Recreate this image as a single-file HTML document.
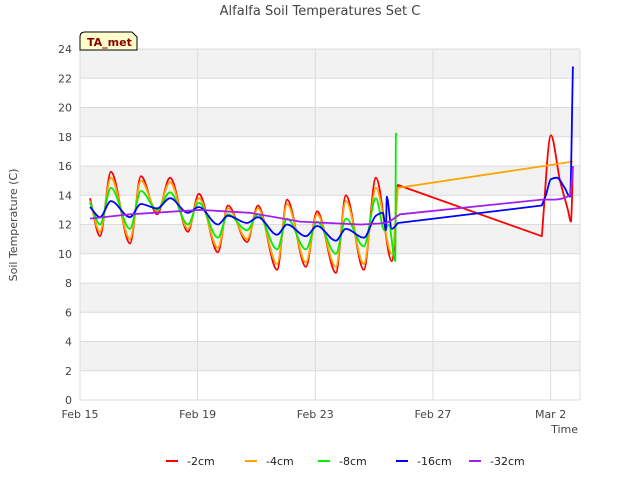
<!DOCTYPE html>
<html><head><meta charset="utf-8"><style>
body{margin:0;background:#fff;font-family:"Liberation Sans","DejaVu Sans",sans-serif;}
svg text{font-family:"DejaVu Sans","Liberation Sans",sans-serif;}
</style></head><body>
<svg id="c" width="640" height="480" xmlns="http://www.w3.org/2000/svg">
<text x="320" y="15" text-anchor="middle" font-size="13" fill="#444">Alfalfa Soil Temperatures Set C</text>
<text transform="translate(17,225) rotate(-90)" text-anchor="middle" font-size="11" fill="#444">Soil Temperature (C)</text>
<text x="578" y="433" text-anchor="end" font-size="11" fill="#444">Time</text>
<g id="bands"></g><g id="grid"></g><g id="ticks"></g><g id="series"></g>
<g>
<path d="M80,50 L80,37 Q80,32 85,32 L132,32 L137,37 L137,50 Z" fill="#ffffcc" stroke="#000" stroke-width="1"/>
<text x="87" y="46" font-size="11" font-weight="bold" fill="#8b0000">TA_met</text>
</g>
<g id="legend"></g>
</svg>
<script>
const yTicks=[0,2,4,6,8,10,12,14,16,18,20,22,24];
const xTickDays=[0,4,8,12,16];
const xTickLabels=["Feb 15","Feb 19","Feb 23","Feb 27","Mar 2"];
const seriesNames=["-2cm","-4cm","-8cm","-16cm","-32cm"];
const seriesColors=["#ff0000","#ffa500","#00ee00","#0000ff","#a020f0"];
const redDays=[0.34,0.68,1.05,1.70,2.07,2.62,3.06,3.67,4.04,4.69,5.03,5.68,6.05,6.70,7.04,7.68,8.06,8.70,9.04,9.65,10.06,10.6,10.81,15.70,16.01,16.32,16.59,16.69,16.76];
const redVals=[13.8,11.2,15.6,10.7,15.3,12.7,15.2,11.5,14.1,10.1,13.3,10.8,13.3,8.9,13.7,9.1,12.9,8.7,14.0,8.9,15.2,9.5,14.7,11.2,18.1,15.0,13.0,12.2,16.0];
const orangeDays=[0.34,0.68,1.05,1.70,2.07,2.62,3.06,3.67,4.04,4.69,5.03,5.68,6.05,6.70,7.04,7.68,8.06,8.70,9.04,9.65,10.06,10.6,10.81,16.76];
const orangeVals=[13.6,11.5,15.2,11.0,15.0,12.9,14.9,11.7,13.8,10.4,13.1,11.0,13.1,9.3,13.4,9.4,12.7,9.1,13.6,9.3,14.5,10.0,14.5,16.3];
const greenDays=[0.34,0.68,1.05,1.70,2.07,2.62,3.06,3.67,4.04,4.69,5.03,5.68,6.05,6.70,7.04,7.68,8.06,8.70,9.04,9.65,10.06,10.35,10.5,10.72,10.74,10.78];
const greenVals=[13.5,12.0,14.5,11.7,14.3,13.0,14.2,12.0,13.5,11.1,12.7,11.6,12.7,10.3,12.4,10.3,12.2,10.0,12.4,10.5,13.8,11.6,12.0,9.5,18.2,18.2];
const blueDays=[0.34,0.68,1.05,1.70,2.07,2.62,3.06,3.67,4.04,4.69,5.03,5.68,6.05,6.70,7.04,7.68,8.06,8.70,9.04,9.65,10.06,10.3,10.4,10.43,10.6,10.81,15.70,15.84,16.01,16.21,16.48,16.66,16.76];
const blueVals=[13.2,12.5,13.6,12.5,13.4,13.1,13.8,12.8,13.2,12.0,12.6,12.1,12.5,11.3,12.0,11.2,11.9,10.9,11.7,11.1,12.6,12.8,11.6,13.9,11.7,12.1,13.3,14.0,15.1,15.2,14.5,13.9,22.8];
const purpleDays=[0.34,1.70,4.08,5.78,7.48,9.52,10.37,10.88,15.70,16.14,16.66,16.76];
const purpleVals=[12.4,12.7,13.0,12.8,12.2,12.0,12.1,12.7,13.7,13.7,14.0,16.0];
const seriesDays=[redDays,orangeDays,greenDays,blueDays,purpleDays];
const seriesVals=[redVals,orangeVals,greenVals,blueVals,purpleVals];

const NS="http://www.w3.org/2000/svg";
const L=80,R=580,T=49,B=400,dMax=17.0,yMax=24;
const xs=d=>L+d/dMax*(R-L);
const ys=v=>B-v/yMax*(B-T);
const GAP=(R-L)/dMax*1.2;
function mk(tag,attrs,parent){const e=document.createElementNS(NS,tag);for(const k in attrs)e.setAttribute(k,attrs[k]);document.getElementById(parent).appendChild(e);return e;}
function smoothPath(X,Y){
 const n=X.length;if(n<2)return '';
 const d=[],lg=[],m=new Array(n);
 for(let i=0;i<n-1;i++){d.push((Y[i+1]-Y[i])/(X[i+1]-X[i]));lg.push(X[i+1]-X[i]>GAP);}
 for(let i=0;i<n;i++){
  const a=(i>0&&!lg[i-1])?d[i-1]:null, b=(i<n-1&&!lg[i])?d[i]:null;
  if(a===null&&b===null)m[i]=0;
  else if(a===null)m[i]=b;
  else if(b===null)m[i]=a;
  else if(a*b<=0)m[i]=0;
  else m[i]=2/(1/a+1/b);
 }
 let p='M'+X[0].toFixed(1)+','+Y[0].toFixed(1);
 for(let i=0;i<n-1;i++){
  if(lg[i]){p+=' L'+X[i+1].toFixed(1)+','+Y[i+1].toFixed(1);continue;}
  const h=(X[i+1]-X[i])/3;
  p+=' C'+(X[i]+h).toFixed(1)+','+(Y[i]+m[i]*h).toFixed(1)+' '+(X[i+1]-h).toFixed(1)+','+(Y[i+1]-m[i+1]*h).toFixed(1)+' '+X[i+1].toFixed(1)+','+Y[i+1].toFixed(1);
 }
 return p;
}
for(let i=0;i<yTicks.length-1;i+=2){
 const r=mk('rect',{x:L,y:ys(yTicks[i+2]||yMax),width:R-L,height:ys(yTicks[i+1])-ys(yTicks[i+2]||yMax),fill:'#f2f2f2'},'bands');
 
 
}
yTicks.forEach(v=>{
 const g=mk('line',{x1:L,x2:R,y1:ys(v),y2:ys(v),stroke:'#dcdcdc','stroke-width':1},'grid');
 
 
 const t=mk('text',{x:L-8,y:ys(v)+4,'text-anchor':'end','font-size':11,fill:'#444'},'ticks');
 t.textContent=v;
 
 
});
mk('line',{x1:L,x2:L,y1:T,y2:B,stroke:'#dcdcdc'},'grid');
mk('line',{x1:R,x2:R,y1:T,y2:B,stroke:'#dcdcdc'},'grid');
xTickDays.forEach((d,i)=>{
 const g=mk('line',{x1:xs(d),x2:xs(d),y1:T,y2:B,stroke:'#dcdcdc'},'grid');
 
 
 const t=mk('text',{x:xs(d),y:B+18,'text-anchor':'middle','font-size':11,fill:'#444'},'ticks');
 t.textContent=xTickLabels[i];
 
 
});
seriesNames.forEach((n,i)=>{
 const X=seriesDays[i].map(xs),Y=seriesVals[i].map(ys);
 const p=mk('path',{d:smoothPath(X,Y),fill:'none',stroke:seriesColors[i],'stroke-width':1.8,'stroke-linejoin':'round'},'series');
 
 
});
const lx=[166,245,318,396,469];
seriesNames.forEach((n,i)=>{
 const g=mk('g',{},'legend');
 
 
 const l=document.createElementNS(NS,'line');
 [['x1',lx[i]],['x2',lx[i]+12],['y1',461],['y2',461],['stroke',seriesColors[i]],['stroke-width',2]].forEach(a=>l.setAttribute(a[0],a[1]));
 g.appendChild(l);
 const t=document.createElementNS(NS,'text');
 t.setAttribute('x',lx[i]+21);t.setAttribute('y',465);t.setAttribute('font-size',11);t.setAttribute('fill','#222');
 t.textContent=n;g.appendChild(t);
});
</script>
</body></html>
